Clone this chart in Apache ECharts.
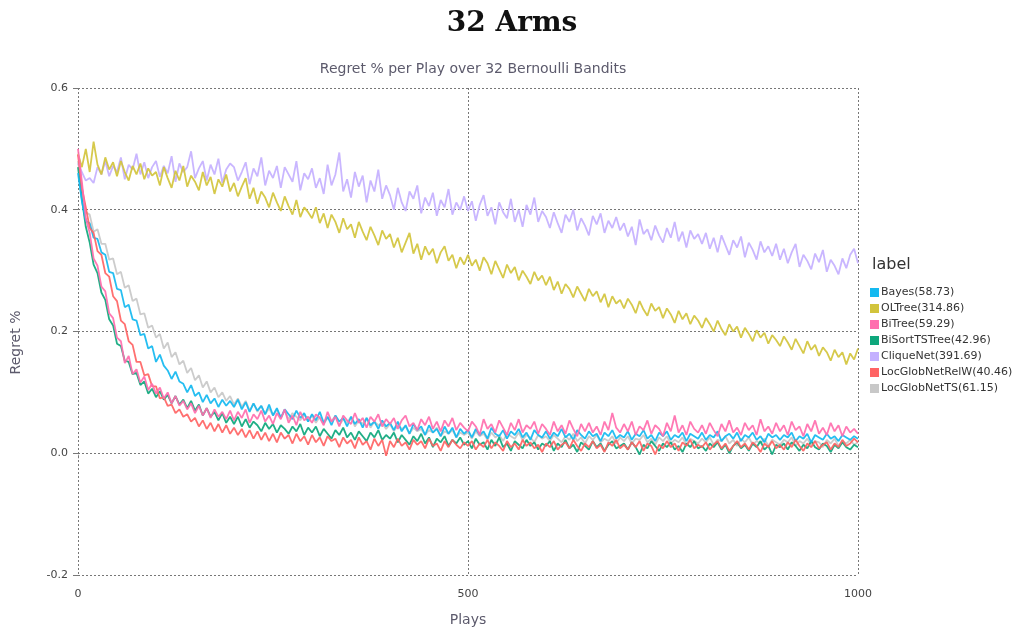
<!DOCTYPE html>
<html>
<head>
<meta charset="utf-8">
<script src="https://cdn.jsdelivr.net/npm/echarts@6/dist/echarts.min.js"></script>
<style>html,body{margin:0;padding:0;background:#fff;}#chart{width:1027px;height:632px;}</style>
</head>
<body>
<div id="chart"></div>
<script>
const plays = [0,5,10,15,20,25,30,35,40,45,50,55,60,65,70,75,80,85,90,95,
100,105,110,115,120,125,130,135,140,145,150,155,160,165,170,175,180,185,190,195,
200,205,210,215,220,225,230,235,240,245,250,255,260,265,270,275,280,285,290,295,
300,305,310,315,320,325,330,335,340,345,350,355,360,365,370,375,380,385,390,395,
400,405,410,415,420,425,430,435,440,445,450,455,460,465,470,475,480,485,490,495,
500,505,510,515,520,525,530,535,540,545,550,555,560,565,570,575,580,585,590,595,
600,605,610,615,620,625,630,635,640,645,650,655,660,665,670,675,680,685,690,695,
700,705,710,715,720,725,730,735,740,745,750,755,760,765,770,775,780,785,790,795,
800,805,810,815,820,825,830,835,840,845,850,855,860,865,870,875,880,885,890,895,
900,905,910,915,920,925,930,935,940,945,950,955,960,965,970,975,980,985,990,995,1000];

const seriesNames = ['Bayes(58.73)','OLTree(314.86)','BiTree(59.29)','BiSortTSTree(42.96)','CliqueNet(391.69)','LocGlobNetRelW(40.46)','LocGlobNetTS(61.15)'];

const bayes = [
0.460,0.414,0.382,0.378,0.354,0.352,0.330,0.326,0.298,0.296,0.270,0.268,0.240,0.244,0.220,0.218,0.194,0.196,0.172,0.176,
0.150,0.162,0.144,0.136,0.122,0.134,0.118,0.114,0.100,0.112,0.094,0.100,0.084,0.096,0.082,0.090,0.076,0.088,0.078,0.086,
0.076,0.088,0.072,0.084,0.068,0.082,0.070,0.078,0.064,0.080,0.062,0.074,0.058,0.072,0.064,0.056,0.070,0.058,0.066,0.052,
0.064,0.054,0.068,0.050,0.060,0.046,0.062,0.052,0.058,0.044,0.060,0.048,0.056,0.042,0.058,0.046,0.052,0.040,0.054,0.044,
0.050,0.038,0.052,0.036,0.046,0.032,0.048,0.038,0.044,0.030,0.046,0.034,0.040,0.028,0.044,0.032,0.042,0.026,0.040,0.032,
0.038,0.026,0.040,0.030,0.036,0.024,0.042,0.032,0.028,0.038,0.024,0.036,0.030,0.040,0.026,0.034,0.022,0.038,0.030,0.026,
0.036,0.024,0.034,0.028,0.040,0.026,0.032,0.022,0.038,0.030,0.024,0.036,0.028,0.032,0.020,0.034,0.028,0.038,0.024,0.030,
0.026,0.036,0.022,0.032,0.028,0.038,0.024,0.030,0.020,0.034,0.028,0.036,0.022,0.030,0.026,0.034,0.020,0.032,0.028,0.024,
0.034,0.022,0.030,0.026,0.036,0.020,0.028,0.032,0.024,0.034,0.020,0.030,0.026,0.034,0.022,0.028,0.018,0.032,0.026,0.030,
0.022,0.030,0.026,0.034,0.020,0.028,0.024,0.032,0.018,0.030,0.026,0.022,0.032,0.024,0.028,0.020,0.030,0.026,0.022,0.028,
0.024];

const olTree = [
0.492,0.470,0.500,0.462,0.512,0.474,0.458,0.486,0.466,0.478,0.455,0.480,0.462,0.448,0.472,0.458,0.476,0.450,0.468,0.456,
0.462,0.440,0.470,0.452,0.436,0.464,0.448,0.472,0.438,0.456,0.446,0.432,0.462,0.440,0.454,0.426,0.450,0.438,0.458,0.430,
0.444,0.422,0.438,0.452,0.418,0.436,0.410,0.430,0.420,0.404,0.428,0.412,0.398,0.422,0.406,0.392,0.416,0.388,0.404,0.396,
0.386,0.404,0.378,0.394,0.370,0.392,0.380,0.362,0.386,0.368,0.376,0.354,0.380,0.364,0.350,0.372,0.358,0.342,0.366,0.352,
0.360,0.338,0.354,0.330,0.346,0.362,0.328,0.344,0.318,0.340,0.326,0.336,0.312,0.330,0.340,0.316,0.326,0.304,0.322,0.310,
0.326,0.308,0.318,0.300,0.322,0.312,0.294,0.316,0.302,0.288,0.310,0.296,0.306,0.284,0.300,0.290,0.278,0.298,0.284,0.292,
0.276,0.290,0.268,0.282,0.262,0.278,0.270,0.256,0.274,0.262,0.250,0.270,0.258,0.266,0.248,0.262,0.240,0.258,0.246,0.252,
0.238,0.254,0.244,0.230,0.250,0.236,0.226,0.246,0.234,0.240,0.222,0.238,0.228,0.214,0.234,0.220,0.230,0.212,0.226,0.218,
0.206,0.222,0.212,0.200,0.218,0.204,0.194,0.212,0.200,0.208,0.190,0.206,0.196,0.184,0.202,0.190,0.198,0.180,0.194,0.186,
0.176,0.192,0.182,0.170,0.188,0.176,0.164,0.184,0.170,0.178,0.160,0.174,0.166,0.152,0.170,0.158,0.166,0.146,0.164,0.154,
0.172];

const biTree = [
0.500,0.446,0.386,0.362,0.320,0.308,0.274,0.266,0.230,0.222,0.190,0.184,0.148,0.160,0.130,0.138,0.116,0.126,0.104,0.114,
0.098,0.108,0.090,0.100,0.082,0.094,0.078,0.086,0.072,0.082,0.066,0.078,0.062,0.074,0.058,0.072,0.060,0.068,0.056,0.070,
0.054,0.068,0.058,0.072,0.050,0.064,0.056,0.070,0.052,0.062,0.048,0.066,0.056,0.072,0.050,0.062,0.046,0.068,0.054,0.060,
0.050,0.064,0.058,0.046,0.068,0.052,0.060,0.044,0.062,0.054,0.048,0.066,0.050,0.058,0.042,0.060,0.052,0.064,0.044,0.056,
0.048,0.058,0.040,0.054,0.062,0.044,0.050,0.038,0.056,0.046,0.060,0.040,0.052,0.036,0.054,0.044,0.058,0.038,0.050,0.042,
0.036,0.052,0.044,0.030,0.056,0.040,0.048,0.034,0.054,0.042,0.030,0.050,0.038,0.056,0.034,0.046,0.040,0.052,0.032,0.048,
0.040,0.030,0.052,0.036,0.046,0.032,0.054,0.040,0.028,0.048,0.036,0.050,0.034,0.044,0.030,0.052,0.038,0.066,0.042,0.034,
0.048,0.036,0.052,0.030,0.044,0.038,0.054,0.032,0.046,0.040,0.028,0.050,0.036,0.062,0.034,0.046,0.030,0.052,0.040,0.034,
0.046,0.032,0.050,0.038,0.028,0.048,0.036,0.054,0.034,0.042,0.030,0.050,0.038,0.046,0.030,0.056,0.036,0.044,0.032,0.050,
0.036,0.046,0.030,0.052,0.038,0.044,0.028,0.048,0.036,0.054,0.032,0.042,0.030,0.050,0.036,0.046,0.028,0.044,0.034,0.040,
0.032];

const biSortTSTree = [
0.470,0.418,0.372,0.346,0.310,0.296,0.264,0.252,0.220,0.210,0.180,0.176,0.152,0.150,0.130,0.132,0.112,0.118,0.098,0.106,
0.092,0.102,0.088,0.096,0.082,0.094,0.080,0.088,0.074,0.086,0.070,0.080,0.062,0.074,0.060,0.068,0.054,0.066,0.050,0.060,
0.048,0.060,0.044,0.056,0.042,0.052,0.046,0.036,0.050,0.040,0.048,0.034,0.046,0.040,0.032,0.044,0.036,0.048,0.030,0.042,
0.034,0.044,0.028,0.040,0.032,0.024,0.038,0.030,0.042,0.026,0.034,0.022,0.036,0.028,0.020,0.034,0.026,0.038,0.022,0.030,
0.024,0.034,0.018,0.030,0.022,0.014,0.028,0.020,0.032,0.016,0.026,0.010,0.024,0.018,0.028,0.012,0.022,0.016,0.026,0.014,
0.020,0.008,0.024,0.014,0.018,0.006,0.022,0.012,0.026,0.010,0.016,0.004,0.020,0.014,0.008,0.022,0.012,0.018,0.006,0.016,
0.012,0.020,0.004,0.016,0.010,0.022,0.008,0.014,0.002,0.018,0.012,0.006,0.020,0.010,0.016,0.004,0.014,0.020,0.008,0.012,
0.016,0.006,0.018,0.010,-0.002,0.014,0.008,0.020,0.012,0.004,0.016,0.010,0.018,0.006,0.012,0.002,0.016,0.010,0.020,0.008,
0.012,0.004,0.016,0.010,0.018,0.006,0.014,0.000,0.012,0.018,0.008,0.014,0.004,0.016,0.010,0.020,0.006,0.012,-0.002,0.014,
0.010,0.016,0.006,0.018,0.012,0.004,0.014,0.008,0.020,0.010,0.006,0.016,0.012,0.002,0.014,0.008,0.018,0.010,0.006,0.014,
0.010];

const cliqueNet = [
0.476,0.462,0.448,0.452,0.444,0.470,0.458,0.480,0.455,0.472,0.462,0.486,0.450,0.474,0.466,0.492,0.458,0.478,0.452,0.470,
0.480,0.454,0.472,0.460,0.488,0.446,0.476,0.462,0.470,0.496,0.452,0.468,0.480,0.448,0.474,0.458,0.484,0.444,0.466,0.476,
0.470,0.448,0.462,0.478,0.442,0.468,0.455,0.486,0.440,0.464,0.452,0.472,0.436,0.470,0.458,0.446,0.480,0.432,0.460,0.450,
0.468,0.436,0.452,0.426,0.474,0.440,0.458,0.494,0.430,0.450,0.420,0.462,0.438,0.456,0.412,0.448,0.430,0.466,0.418,0.440,
0.424,0.400,0.436,0.412,0.398,0.430,0.418,0.440,0.394,0.420,0.406,0.428,0.390,0.416,0.404,0.434,0.392,0.412,0.400,0.422,
0.398,0.414,0.382,0.408,0.424,0.390,0.404,0.376,0.412,0.396,0.386,0.418,0.380,0.400,0.372,0.408,0.392,0.420,0.380,0.398,
0.388,0.370,0.396,0.378,0.362,0.392,0.380,0.400,0.366,0.386,0.374,0.358,0.390,0.376,0.394,0.362,0.382,0.370,0.388,0.366,
0.378,0.356,0.372,0.342,0.384,0.360,0.368,0.350,0.374,0.358,0.346,0.370,0.354,0.380,0.348,0.364,0.338,0.366,0.352,0.360,
0.344,0.362,0.336,0.354,0.330,0.358,0.342,0.326,0.350,0.338,0.356,0.322,0.346,0.334,0.318,0.348,0.330,0.340,0.324,0.344,
0.318,0.336,0.312,0.330,0.344,0.306,0.326,0.316,0.302,0.328,0.314,0.334,0.298,0.318,0.308,0.294,0.320,0.304,0.326,0.336,
0.312];

const locGlobNetRelW = [
0.490,0.436,0.404,0.370,0.362,0.332,0.326,0.296,0.290,0.258,0.250,0.218,0.212,0.184,0.178,0.150,0.150,0.128,0.130,0.110,
0.110,0.090,0.092,0.078,0.080,0.066,0.072,0.060,0.064,0.052,0.058,0.044,0.054,0.040,0.050,0.036,0.048,0.034,0.046,0.032,
0.042,0.030,0.040,0.026,0.038,0.024,0.036,0.022,0.034,0.020,0.032,0.018,0.034,0.024,0.030,0.016,0.032,0.020,0.028,0.014,
0.030,0.018,0.026,0.012,0.028,0.020,0.024,0.010,0.026,0.016,0.022,0.008,0.026,0.014,0.020,0.006,0.024,0.012,0.022,-0.004,
0.020,0.010,0.024,0.012,0.018,0.006,0.022,0.014,0.020,0.008,0.024,0.012,0.016,0.004,0.020,0.010,0.022,0.014,0.008,0.018,
0.012,0.020,0.006,0.016,0.010,0.022,0.008,0.018,0.012,0.004,0.020,0.010,0.016,0.006,0.022,0.012,0.018,0.008,0.014,0.002,
0.016,0.010,0.020,0.006,0.014,0.018,0.008,0.022,0.012,0.004,0.016,0.010,0.020,0.008,0.014,0.002,0.018,0.012,0.022,0.008,
0.014,0.006,0.018,0.010,0.020,0.004,0.016,0.012,-0.002,0.014,0.008,0.020,0.010,0.016,0.004,0.018,0.012,0.022,0.008,0.014,
0.010,0.018,0.006,0.014,0.020,0.008,0.016,0.004,0.012,0.020,0.010,0.016,0.006,0.018,0.012,0.002,0.016,0.010,0.020,0.008,
0.014,0.006,0.018,0.010,0.022,0.012,0.004,0.016,0.010,0.020,0.008,0.014,0.018,0.006,0.016,0.010,0.022,0.012,0.016,0.024,
0.018];

const locGlobNetTS = [
0.480,0.436,0.396,0.392,0.364,0.368,0.344,0.344,0.318,0.320,0.294,0.298,0.272,0.276,0.250,0.254,0.228,0.230,0.206,0.210,
0.190,0.196,0.172,0.182,0.158,0.166,0.146,0.152,0.132,0.140,0.120,0.128,0.108,0.118,0.100,0.108,0.092,0.100,0.086,0.094,
0.080,0.090,0.076,0.086,0.070,0.082,0.068,0.078,0.064,0.074,0.062,0.072,0.058,0.070,0.056,0.066,0.060,0.054,0.064,0.052,
0.062,0.050,0.060,0.048,0.058,0.052,0.062,0.046,0.056,0.050,0.060,0.044,0.054,0.048,0.058,0.042,0.052,0.046,0.050,0.040,
0.048,0.036,0.046,0.040,0.044,0.032,0.042,0.036,0.040,0.030,0.038,0.034,0.042,0.028,0.036,0.032,0.038,0.026,0.034,0.030,
0.034,0.024,0.036,0.028,0.032,0.022,0.034,0.026,0.030,0.020,0.032,0.028,0.024,0.034,0.022,0.030,0.026,0.018,0.030,0.024,
0.028,0.020,0.030,0.024,0.018,0.028,0.022,0.032,0.020,0.026,0.016,0.028,0.022,0.030,0.018,0.024,0.020,0.028,0.016,0.026,
0.020,0.028,0.016,0.024,0.022,0.030,0.018,0.024,0.014,0.026,0.020,0.028,0.016,0.022,0.018,0.026,0.014,0.024,0.020,0.016,
0.024,0.018,0.026,0.014,0.022,0.020,0.028,0.016,0.022,0.012,0.024,0.018,0.026,0.014,0.020,0.016,0.024,0.012,0.022,0.018,
0.014,0.022,0.018,0.026,0.012,0.020,0.016,0.024,0.014,0.020,0.018,0.010,0.022,0.016,0.024,0.012,0.020,0.016,0.022,0.014,
0.018];

const yTicks = [-0.2, 0.0, 0.2, 0.4, 0.6];
const xTicks = [0, 500, 1000];

const colors = {
  'Bayes(58.73)': '#14b9f0',
  'OLTree(314.86)': '#d2c43c',
  'BiTree(59.29)': '#ff6eae',
  'BiSortTSTree(42.96)': '#0ea77c',
  'CliqueNet(391.69)': '#c4b0ff',
  'LocGlobNetRelW(40.46)': '#ff6464',
  'LocGlobNetTS(61.15)': '#c8c8c8'
};
const valuesByName = {
  'Bayes(58.73)': bayes,
  'OLTree(314.86)': olTree,
  'BiTree(59.29)': biTree,
  'BiSortTSTree(42.96)': biSortTSTree,
  'CliqueNet(391.69)': cliqueNet,
  'LocGlobNetRelW(40.46)': locGlobNetRelW,
  'LocGlobNetTS(61.15)': locGlobNetTS
};
const drawOrder = ['LocGlobNetTS(61.15)','CliqueNet(391.69)','OLTree(314.86)','BiSortTSTree(42.96)','Bayes(58.73)','LocGlobNetRelW(40.46)','BiTree(59.29)'];

const FONT = 'DejaVu Sans';
const chart = echarts.init(document.getElementById('chart'), null, {renderer: 'canvas'});
chart.setOption({
  animation: false,
  backgroundColor: '#ffffff',
  title: [
    {text: '32 Arms', left: 507, top: 5, textAlign: 'center',
     textStyle: {fontFamily: 'DejaVu Serif', fontWeight: 'bold', fontSize: 28, color: '#111'}},
    {text: 'Regret % per Play over 32 Bernoulli Bandits', left: 468, top: 57, textAlign: 'center',
     textStyle: {fontFamily: FONT, fontWeight: 'normal', fontSize: 14, color: '#5c5a6c'}},
    {text: 'label', left: 867, top: 252,
     textStyle: {fontFamily: FONT, fontWeight: 'normal', fontSize: 16, color: '#333'}}
  ],
  legend: {
    orient: 'vertical', left: 865, top: 281,
    data: seriesNames,
    icon: 'rect', itemWidth: 9, itemHeight: 9, itemGap: 3,
    textStyle: {fontFamily: FONT, fontSize: 11, color: '#333', padding: [0,0,0,-3], lineHeight: 13}
  },
  grid: {left: 78, right: 169, top: 88, bottom: 57, containLabel: false},
  xAxis: {
    type: 'value', min: 0, max: 1000, interval: 500,
    name: 'Plays', nameLocation: 'middle', nameGap: 38,
    nameTextStyle: {fontFamily: FONT, fontSize: 14, color: '#5c5a6c'},
    axisLine: {show: false},
    axisTick: {show: true, length: 5, lineStyle: {color: '#777', type: 'dotted'}},
    axisLabel: {fontFamily: FONT, fontSize: 11, color: '#444', margin: 14,
      formatter: v => String(v)},
    splitLine: {show: true, lineStyle: {color: '#777', type: [2, 2], width: 1}}
  },
  yAxis: {
    type: 'value', min: -0.2, max: 0.6, interval: 0.2,
    name: 'Regret %', nameLocation: 'middle', nameGap: 55, nameRotate: 90,
    nameTextStyle: {fontFamily: FONT, fontSize: 14, color: '#5c5a6c', padding: [0, 0, 0, -22]},
    axisLine: {show: false},
    axisTick: {show: true, length: 5, lineStyle: {color: '#777'}},
    axisLabel: {fontFamily: FONT, fontSize: 11, color: '#444', margin: 10,
      formatter: v => v.toFixed(1)},
    splitLine: {show: true, lineStyle: {color: '#777', type: [2, 2], width: 1}}
  },
  series: drawOrder.map(name => ({
    name: name,
    type: 'line',
    showSymbol: false,
    symbol: 'none',
    color: colors[name],
    lineStyle: {width: 1.8, color: colors[name], opacity: 0.92},
    emphasis: {disabled: true},
    data: plays.map((p, i) => [p, valuesByName[name][i]])
  }))
});
</script>
</body>
</html>
